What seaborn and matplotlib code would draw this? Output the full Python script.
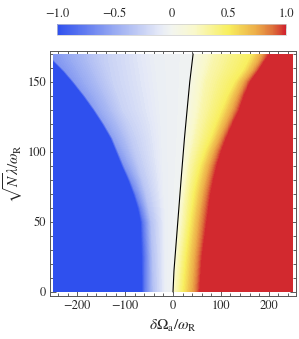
import numpy as np
import matplotlib
matplotlib.use("Agg")
import matplotlib.pyplot as plt
import seaborn as sns
from matplotlib.colors import LinearSegmentedColormap, Normalize
from matplotlib.cm import ScalarMappable
from matplotlib.patches import Rectangle

# === values ===
# rows of the density map (sqrt(N) lambda / omega_R)
row_y = [0, 25, 50, 60, 70, 80, 90, 100, 110, 120, 130, 140, 150, 158, 165, 170]

# x positions (delta Omega_a / omega_R) of colour features along each row
blue_edge = [-64, -65, -67, -73, -82, -93, -106, -118, -130, -147, -166, -187,
             -210, -230, -250, -262]
blue_jump = [-58, -59, -62, -68, -77, -88, -101, -113, -125, -142, -161, -182,
             -205, -225, -246, -258]
light_blue = [-40, -42, -45, -50, -55, -62, -70, -78, -85, -95, -105, -115,
              -125, -135, -145, -150]
near_white = [-15, -15, -15, -16, -18, -19, -20, -21, -22, -23, -25, -27,
              -30, -32, -35, -37]
zero_line = [0, 4, 10, 12, 14, 16, 19, 21, 24, 27, 29, 32, 35, 38, 40, 42]
pale_yellow = [8, 14, 22, 24, 27, 31, 35, 41, 48, 54, 60, 65, 70, 78, 85, 90]
yellow = [22, 28, 37, 41, 45, 51, 58, 68, 80, 91, 103, 115, 130, 147, 158, 165]
orange = [45, 50, 58, 62, 67, 73, 80, 90, 102, 115, 128, 139, 152, 170, 183, 190]
red_edge = [57, 62, 72, 76, 80, 86, 93, 102, 113, 126, 140, 150, 163, 180, 193, 203]

# colour values at those features
jump_val = [-0.75, -0.8, -0.78, -0.74, -0.7, -0.66, -0.62, -0.58, -0.55, -0.55,
            -0.55, -0.57, -0.58, -0.6, -0.62, -0.64]
light_val = [-0.35, -0.35, -0.35, -0.34, -0.32, -0.31, -0.3, -0.29, -0.28, -0.27,
             -0.25, -0.25, -0.25, -0.26, -0.27, -0.28]
line_right_val = [0.2, 0.15, 0.12, 0.11, 0.1, 0.09, 0.08, 0.075, 0.07, 0.065,
                  0.06, 0.06, 0.06, 0.06, 0.06, 0.06]

# black curve
line_y = [0, 15, 50, 85, 110, 132, 150, 170]
line_x = [0, 2, 10, 18, 24, 30, 35, 42]

cbar_ticks = [-1.0, -0.5, 0, 0.5, 1.0]
cbar_labels = ["\u22121.0", "\u22120.5", "0", "0.5", "1.0"]

# colour map (value -> colour)
cmap_vals = [-1.0, -0.5, -0.1, 0.0, 0.2, 0.5, 0.75, 0.9, 1.0]
cmap_cols = ["#2f50ee", "#98aaf2", "#e6eaf7", "#f3f5f0", "#f9f8cc",
             "#f8ef5e", "#ecaa48", "#dc6a3a", "#d1232e"]

sns.set_style("ticks")
plt.rcParams["font.family"] = ["STIXGeneral", "DejaVu Serif"]
plt.rcParams["mathtext.fontset"] = "stix"

cmap = LinearSegmentedColormap.from_list(
    "dens", [((v + 1) / 2, c) for v, c in zip(cmap_vals, cmap_cols)])

# build curvilinear grid from the feature rows
n = len(row_y)
cols_x = [[-300] * n, blue_edge, blue_jump, light_blue, near_white,
          [x - 0.5 for x in zero_line], [x + 0.5 for x in zero_line],
          pale_yellow, yellow, orange, red_edge, [300] * n]
cols_v = [[-1.0] * n, [-1.0] * n, jump_val, light_val, [-0.06] * n,
          [-0.02] * n, line_right_val, [0.28] * n, [0.5] * n, [0.8] * n,
          [1.0] * n, [1.0] * n]
X = np.column_stack(cols_x).astype(float)
Z = np.column_stack(cols_v).astype(float)
Y = np.repeat(np.array(row_y, dtype=float)[:, None], X.shape[1], axis=1)

fig = plt.figure(figsize=(2.99, 3.39), dpi=100)
ax = fig.add_axes([50 / 299, 43 / 339, 246 / 299, 245 / 339])

cs = ax.contourf(X, Y, Z, levels=np.linspace(-1, 1, 121), cmap=cmap,
                 extend="both", antialiased=False)
clip = Rectangle((-250, 0), 500, 170, transform=ax.transData)
cs.set_clip_path(clip)

sns.lineplot(x=line_x, y=line_y, sort=False, estimator=None,
             color="black", lw=0.8, ax=ax)

ax.set_xlim(-257, 257)
ax.set_ylim(-2.9, 172.1)
ax.set_xticks([-200, -100, 0, 100, 200])
ax.set_xticklabels(["\u2212200", "\u2212100", "0", "100", "200"])
ax.set_xticks(np.arange(-240, 260, 20), minor=True)
ax.set_yticks([0, 50, 100, 150])
ax.set_yticks(np.arange(0, 171, 10), minor=True)
ax.tick_params(which="both", direction="in", top=True, right=True,
               labelsize=9, color="#444444", width=0.6, pad=3)
ax.tick_params(which="major", length=4)
ax.tick_params(which="minor", length=2)
for s in ax.spines.values():
    s.set_linewidth(0.7)
    s.set_color("#555555")
ax.set_xlabel(r"$\delta\Omega_{\rm a}/\omega_{\rm R}$", fontsize=11, labelpad=4)
ax.set_ylabel(r"$\sqrt{N}\lambda/\omega_{\rm R}$", fontsize=11)
ax.yaxis.set_label_coords(-0.1, 0.5)

cax = fig.add_axes([57 / 299, (339 - 35) / 339, 229 / 299, 11 / 339])
cb = fig.colorbar(ScalarMappable(norm=Normalize(-1, 1), cmap=cmap), cax=cax,
                  orientation="horizontal", ticks=cbar_ticks)
cax.xaxis.set_ticks_position("top")
cax.xaxis.set_label_position("top")
cb.set_ticklabels(cbar_labels)
cax.set_xticks(np.arange(-1, 1.01, 0.1), minor=True)
cax.tick_params(which="both", direction="in", color="#aaaaaa", labelsize=9,
                width=0.5, pad=3)
cax.tick_params(which="major", length=3)
cax.tick_params(which="minor", length=1.5)
cb.outline.set_edgecolor("#cccccc")
cb.outline.set_linewidth(0.5)

fig.savefig("out.png", dpi=100)
